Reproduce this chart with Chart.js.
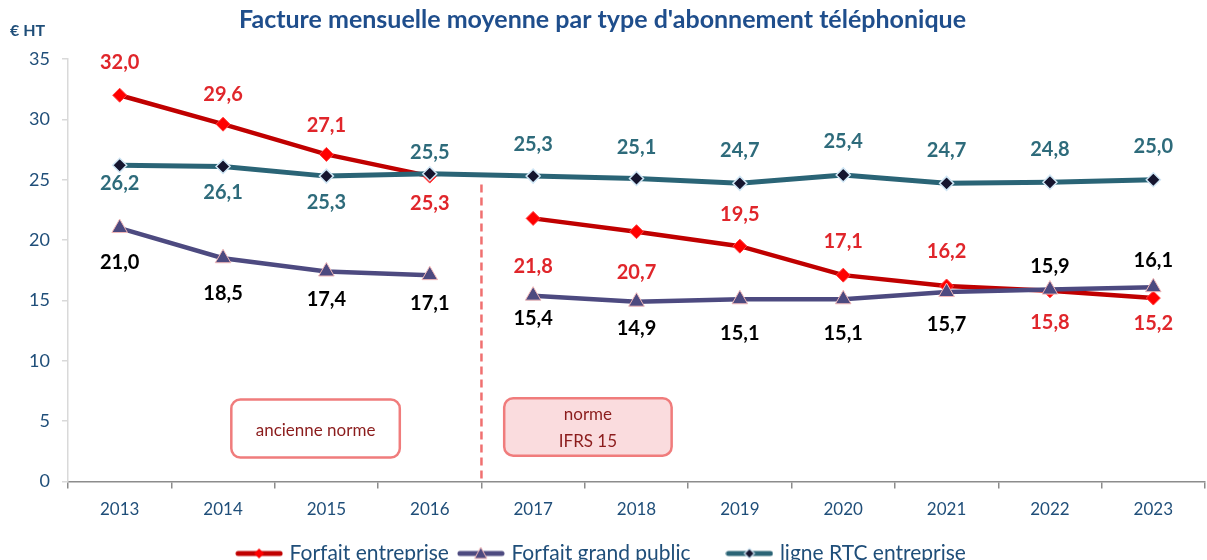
<!DOCTYPE html>
<html lang="fr">
<head>
<meta charset="utf-8">
<title>Facture mensuelle moyenne</title>
<script src="https://cdn.jsdelivr.net/npm/chart.js@4.4.1/dist/chart.umd.min.js"></script>
<style>
    html, body { margin: 0; padding: 0; background: #fff; overflow: hidden; }
    #cadre { position: relative; width: 1207px; height: 574px; }
</style>
</head>
<body>
<div id="cadre"><canvas id="graficoFacture"></canvas></div>
<script>
// DONNEES --------------------------
const annees = ["2013", "2014", "2015", "2016", "2017", "2018", "2019", "2020", "2021", "2022", "2023"];
const forfaitEntreprise = [32.0, 29.6, 27.1, 25.3, 21.8, 20.7, 19.5, 17.1, 16.2, 15.8, 15.2];
const forfaitGrandPublic = [21.0, 18.5, 17.4, 17.1, 15.4, 14.9, 15.1, 15.1, 15.7, 15.9, 16.1];
const ligneRTC = [26.2, 26.1, 25.3, 25.5, 25.3, 25.1, 24.7, 25.4, 24.7, 24.8, 25.0];
const Y_MIN = 0, Y_MAX = 35, Y_PAS = 5;

// rupture de série entre 2016 et 2017 (changement de norme)
const INDEX_RUPTURE = 3;

// décalage vertical des étiquettes (px, négatif = au-dessus)
const decalRouge = [-33, -30, -29, 27, 48, 41, -32, -34, -34, 32, 25];
const decalViolet = [35, 35, 28, 28, 23, 27, 34, 34, 33, -23, -27];
const decalTeal = [18, 26, 26, -21, -32, -31, -33, -33, -33, -33, -33];

const COULEURS = {
    rouge: { ligne: "#C00000", point: "#FF0000", texte: "#E0262B" },
    violet: { ligne: "#4D4A80", point: "#4D4A80", bord: "#F2B8B8", texte: "#000000" },
    teal: { ligne: "#2A6476", point: "#15152F", bord: "#CFE6F5", texte: "#2E6B7B" },
};
const BLEU = "#1F4E79";
const POLICE = "Lato, 'Open Sans', sans-serif";

function icone(couleur, dessinMarqueur) {
    const c = document.createElement("canvas");
    c.width = 48; c.height = 14;
    const g = c.getContext("2d");
    g.strokeStyle = couleur;
    g.lineWidth = 5;
    g.lineCap = "round";
    g.beginPath(); g.moveTo(3, 7); g.lineTo(45, 7); g.stroke();
    dessinMarqueur(g, 24, 7);
    return c;
}
const iconeRouge = icone(COULEURS.rouge.ligne, (g, x, y) => {
    g.fillStyle = COULEURS.rouge.point;
    g.beginPath(); g.moveTo(x, y - 5); g.lineTo(x + 5, y); g.lineTo(x, y + 5); g.lineTo(x - 5, y); g.closePath(); g.fill();
});
const iconeViolet = icone(COULEURS.violet.ligne, (g, x, y) => {
    g.fillStyle = COULEURS.violet.point; g.strokeStyle = COULEURS.violet.bord; g.lineWidth = 1;
    g.beginPath(); g.moveTo(x, y - 6); g.lineTo(x + 6, y + 5); g.lineTo(x - 6, y + 5); g.closePath(); g.fill(); g.stroke();
});
const iconeTeal = icone(COULEURS.teal.ligne, (g, x, y) => {
    g.fillStyle = COULEURS.teal.point; g.strokeStyle = COULEURS.teal.bord; g.lineWidth = 1.2;
    g.beginPath(); g.moveTo(x, y - 5); g.lineTo(x + 5, y); g.lineTo(x, y + 5); g.lineTo(x - 5, y); g.closePath(); g.fill(); g.stroke();
});

const coupure = (ctx) => ctx.p0DataIndex === INDEX_RUPTURE ? "transparent" : undefined;

const donnees = {
    labels: annees,
    datasets: [
        {
            label: "Forfait entreprise", data: forfaitEntreprise, order: 3,
            borderColor: COULEURS.rouge.ligne, borderWidth: 4.5, tension: 0,
            pointStyle: "rectRot", pointRadius: 7, pointBackgroundColor: COULEURS.rouge.point,
            pointBorderColor: "#FF4040", pointBorderWidth: 1,
            segment: { borderColor: coupure },
            decal: decalRouge, couleurTexte: COULEURS.rouge.texte, icone: iconeRouge,
        },
        {
            label: "Forfait grand public", data: forfaitGrandPublic, order: 2,
            borderColor: COULEURS.violet.ligne, borderWidth: 4.5, tension: 0,
            pointStyle: "triangle", pointRadius: 9, pointBackgroundColor: COULEURS.violet.point,
            pointBorderColor: COULEURS.violet.bord, pointBorderWidth: 1,
            segment: { borderColor: coupure },
            decal: decalViolet, couleurTexte: COULEURS.violet.texte, icone: iconeViolet,
        },
        {
            label: "ligne RTC entreprise", data: ligneRTC, order: 1,
            borderColor: COULEURS.teal.ligne, borderWidth: 5, tension: 0,
            pointStyle: "rectRot", pointRadius: 7, pointBackgroundColor: COULEURS.teal.point,
            pointBorderColor: COULEURS.teal.bord, pointBorderWidth: 1.5,
            decal: decalTeal, couleurTexte: COULEURS.teal.texte, icone: iconeTeal,
        },
    ]
};

function boite(ctx, x1, y1, x2, y2, r, fond) {
    ctx.beginPath();
    ctx.roundRect(x1, y1, x2 - x1, y2 - y1, r);
    if (fond) { ctx.fillStyle = fond; ctx.fill(); }
    ctx.strokeStyle = "#F07C7C";
    ctx.lineWidth = 2.5;
    ctx.stroke();
}

const pluginDecor = {
    id: "decor",
    beforeDatasetsDraw(chart) {
        const { ctx, scales: { x, y } } = chart;
        ctx.save();
        // ligne de rupture entre les deux normes
        const xr = (x.getPixelForValue(INDEX_RUPTURE) + x.getPixelForValue(INDEX_RUPTURE + 1)) / 2;
        ctx.strokeStyle = "#F07070";
        ctx.lineWidth = 2.5;
        ctx.setLineDash([8, 5]);
        ctx.beginPath();
        ctx.moveTo(xr, y.getPixelForValue(24.6));
        ctx.lineTo(xr, y.bottom);
        ctx.stroke();
        ctx.setLineDash([]);

        // encadrés
        boite(ctx, x.getPixelForValue(1.08), y.getPixelForValue(6.8), x.getPixelForValue(2.71), y.getPixelForValue(2.0), 9, "#FFFFFF");
        boite(ctx, x.getPixelForValue(3.72), y.getPixelForValue(6.9), x.getPixelForValue(5.34), y.getPixelForValue(2.15), 9, "#FADCDE");
        ctx.fillStyle = "#8B1C1C";
        ctx.font = `17px ${POLICE}`;
        ctx.textAlign = "center";
        ctx.textBaseline = "middle";
        ctx.fillText("ancienne norme", x.getPixelForValue(1.895), y.getPixelForValue(4.25));
        ctx.fillText("norme", x.getPixelForValue(4.53), y.getPixelForValue(5.55));
        ctx.fillText("IFRS 15", x.getPixelForValue(4.53), y.getPixelForValue(3.3));
        ctx.restore();
    },
    afterDatasetsDraw(chart) {
        const { ctx } = chart;
        ctx.save();
        ctx.font = `bold 20px ${POLICE}`;
        ctx.textAlign = "center";
        ctx.textBaseline = "middle";
        chart.data.datasets.forEach((ds, i) => {
            const meta = chart.getDatasetMeta(i);
            ctx.fillStyle = ds.couleurTexte;
            meta.data.forEach((pt, j) => {
                const texte = ds.data[j].toFixed(1).replace(".", ",");
                ctx.fillText(texte, pt.x, pt.y + ds.decal[j]);
            });
        });
        ctx.restore();
    },
    afterDraw(chart) {
        const { ctx } = chart;
        ctx.save();
        ctx.font = `bold 16px ${POLICE}`;
        ctx.fillStyle = BLEU;
        ctx.textAlign = "left";
        ctx.textBaseline = "middle";
        ctx.fillText("€ HT", 10, 31);
        ctx.restore();
    }
};

const options = {
    responsive: true,
    maintainAspectRatio: false,
    animation: false,
    layout: { autoPadding: false, padding: { left: 0, right: 2, top: 0, bottom: 0 } },
    plugins: {
        title: {
            display: true,
            text: "Facture mensuelle moyenne par type d'abonnement téléphonique",
            color: "#1F4E8C",
            font: { family: POLICE, size: 25, weight: "bold" },
            padding: { top: 5, bottom: 24 },
        },
        legend: {
            position: "bottom",
            labels: {
                usePointStyle: true,
                pointStyleWidth: 40,
                color: BLEU,
                font: { family: POLICE, size: 21 },
                padding: 12,
                // espace plus large avant la troisième entrée, comme dans l'original
                generateLabels: (chart) => chart.data.datasets.map((ds, i) => ({
                    text: i === 1 ? ds.label + "     " : ds.label,
                    datasetIndex: i,
                    pointStyle: ds.icone,
                    fontColor: BLEU,
                    lineWidth: 0,
                    strokeStyle: "transparent",
                    fillStyle: "transparent",
                })),
            },
        },
        tooltip: { enabled: false },
    },
    scales: {
        x: {
            offset: true,
            border: { color: "#8C8C8C", width: 1.5 },
            grid: { offset: true, drawOnChartArea: false, tickLength: 7, color: "#8C8C8C", lineWidth: 1.5 },
            ticks: { color: BLEU, font: { family: POLICE, size: 17 }, padding: 11 },
        },
        y: {
            min: Y_MIN, max: Y_MAX,
            border: { color: "#D9D9D9", width: 1.5 },
            grid: { drawOnChartArea: false, tickLength: 6, color: "#D9D9D9", lineWidth: 1.5 },
            ticks: { stepSize: Y_PAS, color: BLEU, font: { family: POLICE, size: 18 }, padding: 12 },
            afterFit: (s) => { s.width = 68; },
        },
    },
};

document.addEventListener("DOMContentLoaded", () => {
    const ctx = document.getElementById("graficoFacture").getContext("2d");
    new Chart(ctx, { type: "line", data: donnees, options: options, plugins: [pluginDecor] });
});
</script>
</body>
</html>
